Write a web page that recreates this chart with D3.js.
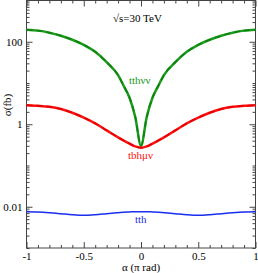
<!DOCTYPE html>
<html>
<head>
<meta charset="utf-8">
<script src="https://cdn.jsdelivr.net/npm/d3@7"></script>
<style>
  body { margin: 0; background: #fff; }
  text { font-family: "Liberation Serif", "DejaVu Serif", serif; }
</style>
</head>
<body>
<div id="chart"></div>
<script>
// alpha in units of pi rad
var alphaVals = [-1, -0.9, -0.8, -0.7, -0.6, -0.5, -0.4, -0.3, -0.2, -0.15, -0.1, -0.05, 0,
                 0.05, 0.1, 0.15, 0.2, 0.3, 0.4, 0.5, 0.6, 0.7, 0.8, 0.9, 1];
var tthvv = [195, 186, 166, 140, 112, 84, 57, 32, 15.5, 8.4, 4.4, 1.5, 0.3,
             1.5, 4.4, 8.4, 15.5, 32, 57, 84, 112, 140, 166, 186, 195];
var tbhmv = [2.9, 2.8, 2.65, 2.35, 1.9, 1.45, 1.05, 0.71, 0.48, 0.4, 0.34, 0.29, 0.27,
             0.29, 0.34, 0.4, 0.48, 0.71, 1.05, 1.45, 1.9, 2.35, 2.65, 2.8, 2.9];
var tth = [0.0076, 0.0075, 0.0072, 0.0068, 0.0064, 0.0062, 0.0064, 0.0068, 0.0072, 0.0074, 0.0075, 0.0076, 0.0076,
           0.0076, 0.0075, 0.0074, 0.0072, 0.0068, 0.0064, 0.0062, 0.0064, 0.0068, 0.0072, 0.0075, 0.0076];

var xMajor = [-1, -0.5, 0, 0.5, 1];
var xMajorLabels = ["-1", "-0.5", "0", "0.5", "1"];
var yMajor = [0.01, 1, 100];
var yMajorLabels = ["0.01", "1", "100"];

var W = 258, H = 273;
var box = {left: 26.5, right: 255.5, top: 0.5, bottom: 248};

var svg = d3.select("#chart").append("svg")
  .attr("width", W).attr("height", H);

var x = d3.scaleLinear().domain([-1, 1]).range([box.left, box.right]);
var y = d3.scaleLog().domain([0.001, 1000]).range([box.bottom, box.top]);

// minor tick values
var xMinor = d3.range(-10, 11).map(function(i) { return i / 10; })
  .filter(function(v) { return xMajor.indexOf(v) < 0; });
var yMinor = [];
for (var k = -3; k <= 2; k++) {
  for (var m = 1; m <= 9; m++) {
    if (m === 1 && (k === -2 || k === 0 || k === 2)) continue;
    yMinor.push(m * Math.pow(10, k));
  }
}
yMinor.push(1000);

function styleAxis(g) {
  g.select(".domain").remove();
  g.selectAll("line").attr("stroke", "#444");
  g.selectAll("text").style("font-size", "11px").attr("fill", "#000")
    .style("font-family", "'Liberation Serif', serif");
}

// bottom
svg.append("g").attr("transform", "translate(0," + box.bottom + ")")
  .call(d3.axisBottom(x).tickValues(xMajor).tickSize(-6).tickPadding(4)
    .tickFormat(function(d, i) { return xMajorLabels[i]; }))
  .call(styleAxis);
svg.append("g").attr("transform", "translate(0," + box.bottom + ")")
  .call(d3.axisBottom(x).tickValues(xMinor).tickSize(-3).tickFormat(""))
  .call(styleAxis);
// top
svg.append("g").attr("transform", "translate(0," + box.top + ")")
  .call(d3.axisTop(x).tickValues(xMajor).tickSize(-6).tickFormat(""))
  .call(styleAxis);
svg.append("g").attr("transform", "translate(0," + box.top + ")")
  .call(d3.axisTop(x).tickValues(xMinor).tickSize(-3).tickFormat(""))
  .call(styleAxis);
// left
svg.append("g").attr("transform", "translate(" + box.left + ",0)")
  .call(d3.axisLeft(y).tickValues(yMajor).tickSize(-6).tickPadding(4)
    .tickFormat(function(d, i) { return yMajorLabels[i]; }))
  .call(styleAxis);
svg.append("g").attr("transform", "translate(" + box.left + ",0)")
  .call(d3.axisLeft(y).tickValues(yMinor).tickSize(-3).tickFormat(""))
  .call(styleAxis);
// right
svg.append("g").attr("transform", "translate(" + box.right + ",0)")
  .call(d3.axisRight(y).tickValues(yMajor).tickSize(-6).tickFormat(""))
  .call(styleAxis);
svg.append("g").attr("transform", "translate(" + box.right + ",0)")
  .call(d3.axisRight(y).tickValues(yMinor).tickSize(-3).tickFormat(""))
  .call(styleAxis);

// frame
svg.append("rect")
  .attr("x", box.left).attr("y", box.top)
  .attr("width", box.right - box.left).attr("height", box.bottom - box.top)
  .attr("fill", "none").attr("stroke", "#444").attr("stroke-width", 1);

var line = d3.line().curve(d3.curveMonotoneX)
  .x(function(d) { return x(d[0]); })
  .y(function(d) { return y(d[1]); });

function series(vals) { return alphaVals.map(function(a, i) { return [a, vals[i]]; }); }

svg.append("path").datum(series(tthvv)).attr("d", line)
  .attr("fill", "none").attr("stroke", "#1c9c1c").attr("stroke-width", 2.5);
svg.append("path").datum(series(tthvv)).attr("d", line)
  .attr("fill", "none").attr("stroke", "#0e820e").attr("stroke-width", 1.6)
  .attr("stroke-dasharray", "6,4");
svg.append("path").datum(series(tbhmv)).attr("d", line)
  .attr("fill", "none").attr("stroke", "#ff1010").attr("stroke-width", 2.5);
svg.append("path").datum(series(tbhmv)).attr("d", line)
  .attr("fill", "none").attr("stroke", "#e00000").attr("stroke-width", 1.6)
  .attr("stroke-dasharray", "6,4");
svg.append("path").datum(series(tth)).attr("d", line)
  .attr("fill", "none").attr("stroke", "#1a2ef0").attr("stroke-width", 1.5);

// labels
svg.append("text").attr("x", 113).attr("y", 22)
  .style("font-size", "11px").text("\u221As=30 TeV");
svg.append("text").attr("x", 129).attr("y", 84)
  .style("font-size", "11px").attr("fill", "#1c9c1c").text("tth\u03BD\u03BD");
svg.append("text").attr("x", 128).attr("y", 159)
  .style("font-size", "11px").attr("fill", "#ff1010").text("tbh\u03BC\u03BD");
svg.append("text").attr("x", 135).attr("y", 223)
  .style("font-size", "11px").attr("fill", "#1a2ef0").text("tth");

svg.append("text").attr("x", (box.left + box.right) / 2).attr("y", 271)
  .attr("text-anchor", "middle").style("font-size", "11px").text("\u03B1 (\u03C0 rad)");
svg.append("text")
  .attr("transform", "translate(11,105) rotate(-90)")
  .attr("text-anchor", "middle").style("font-size", "11px").text("\u03C3(fb)");
</script>
</body>
</html>
